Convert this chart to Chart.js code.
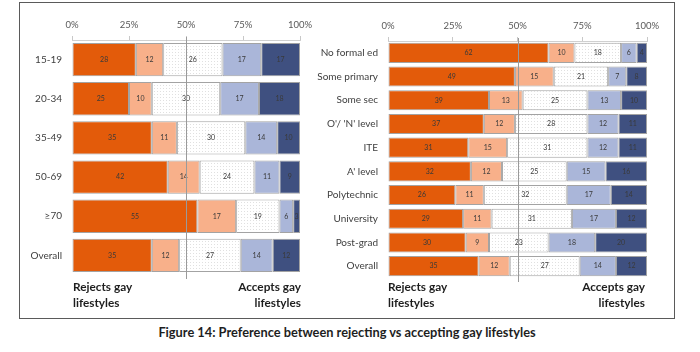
<!DOCTYPE html>
<html>
<head>
<meta charset="utf-8">
<script src="https://cdn.jsdelivr.net/npm/chart.js@4.4.1/dist/chart.umd.min.js"></script>
<style>
  html, body { margin: 0; padding: 0; background: #fff; }
  body { width: 700px; height: 352px; position: relative; overflow: hidden; font-family: Lato, "Open Sans", sans-serif; }
  .frame { position: absolute; left: 19px; top: 2px; width: 654px; height: 315px; border: 1.5px solid #5a5a5a; }
  .cv { position: absolute; top: 0; }
  .note { position: absolute; font-weight: bold; font-size: 11.8px; line-height: 16px; color: #1e1e1e; }
  .caption { position: absolute; left: 0; width: 694px; top: 324px; text-align: center; font-weight: bold; font-size: 12.8px; color: #1e1e1e; }
</style>
</head>
<body>
<div class="frame"></div>
<div class="cv" style="left:0px;width:330px;height:300px;"><canvas id="c1"></canvas></div>
<div class="cv" style="left:305px;width:370px;height:300px;"><canvas id="c2"></canvas></div>
<div class="note" style="left:73px;top:279px;">Rejects gay<br>lifestyles</div>
<div class="note" style="right:399px;top:279px;text-align:right;">Accepts gay<br>lifestyles</div>
<div class="note" style="left:388px;top:279px;">Rejects gay<br>lifestyles</div>
<div class="note" style="right:55px;top:279px;text-align:right;">Accepts gay<br>lifestyles</div>
<div class="caption">Figure 14: Preference between rejecting vs accepting gay lifestyles</div>
<script>
// ---- Data ----
const ageCategories = ['15-19', '20-34', '35-49', '50-69', '\u226570', 'Overall'];
const ageStronglyReject = [28, 25, 35, 42, 55, 35];
const ageReject         = [12, 10, 11, 14, 17, 12];
const ageNeutral        = [26, 30, 30, 24, 19, 27];
const ageAccept         = [17, 17, 14, 11, 6, 14];
const ageStronglyAccept = [17, 18, 10, 9, 3, 12];

const eduCategories = ['No formal ed', 'Some primary', 'Some sec', "O'/ 'N' level", 'ITE', "A' level", 'Polytechnic', 'University', 'Post-grad', 'Overall'];
const eduStronglyReject = [62, 49, 39, 37, 31, 32, 26, 29, 30, 35];
const eduReject         = [10, 15, 13, 12, 15, 12, 11, 11, 9, 12];
const eduNeutral        = [18, 21, 25, 28, 31, 25, 32, 31, 23, 27];
const eduAccept         = [6, 7, 13, 12, 12, 15, 17, 17, 18, 14];
const eduStronglyAccept = [4, 8, 10, 11, 11, 16, 14, 12, 20, 12];

const xTickLabels = ['0%', '25%', '50%', '75%', '100%'];

// ---- Styles ----
function dotPattern() {
  const c = document.createElement('canvas');
  c.width = 3; c.height = 3;
  const g = c.getContext('2d');
  g.fillStyle = '#ffffff'; g.fillRect(0, 0, 3, 3);
  g.fillStyle = '#e0e0e0'; g.fillRect(1, 1, 1, 1);
  return g.createPattern(c, 'repeat');
}
const pat = dotPattern();
const colors = ['#e35b0a', '#f8b08a', pat, '#aab6d9', '#3f5080'];

const segLabels = {
  id: 'segLabels',
  afterDatasetsDraw(chart) {
    const ctx = chart.ctx;
    ctx.save();
    ctx.font = '7px Lato, sans-serif';
    ctx.textAlign = 'center';
    ctx.textBaseline = 'middle';
    ctx.fillStyle = '#3a3a3a';
    chart.data.datasets.forEach((ds, i) => {
      chart.getDatasetMeta(i).data.forEach((el, j) => {
        const cx = (el.x + el.base) / 2;
        ctx.fillText(String(ds.data[j]), cx, el.y);
      });
    });
    ctx.restore();
  }
};
const midLine = {
  id: 'midLine',
  afterDraw(chart) {
    const ctx = chart.ctx, a = chart.chartArea;
    const x = Math.round(chart.scales.x.getPixelForValue(50)) + 0.5;
    ctx.save();
    ctx.strokeStyle = '#9a9a9a';
    ctx.lineWidth = 1;
    ctx.beginPath();
    ctx.moveTo(x, a.top - 3);
    ctx.lineTo(x, a.bottom + 4);
    ctx.stroke();
    ctx.restore();
  }
};

function makeChart(id, cats, series, yWidth, xHeight, pad) {
  const names = ['Strongly reject', 'Reject', 'Neutral', 'Accept', 'Strongly accept'];
  return new Chart(document.getElementById(id), {
    type: 'bar',
    data: {
      labels: cats,
      datasets: series.map((d, i) => ({
        label: names[i], data: d, backgroundColor: colors[i],
        borderColor: '#a3a3a3', borderWidth: 1, borderSkipped: false,
        barPercentage: 0.85, categoryPercentage: 1
      }))
    },
    options: {
      indexAxis: 'y', responsive: true, maintainAspectRatio: false, animation: false,
      layout: { padding: pad },
      plugins: { legend: { display: false }, tooltip: { enabled: false } },
      scales: {
        x: {
          stacked: true, position: 'top', min: 0, max: 100,
          afterBuildTicks(s) { s.ticks = xTickLabels.map((t, i) => ({ value: i * 25 })); },
          afterFit(s) { s.height = xHeight; },
          ticks: { callback: (v) => xTickLabels[v / 25], font: { family: 'Lato', size: 9.5 }, color: '#595959', padding: 5, maxRotation: 0 },
          grid: { drawOnChartArea: false, drawTicks: true, tickLength: 4, color: '#c8c8c8' },
          border: { display: true, color: '#d0d0d0' }
        },
        y: {
          stacked: true,
          afterFit(s) { s.width = yWidth; },
          ticks: { font: { family: 'Lato', size: 10 }, color: '#404040', padding: 10 },
          grid: { display: false, drawTicks: false },
          border: { display: false }
        }
      }
    },
    plugins: [segLabels, midLine]
  });
}

makeChart('c1', ageCategories,
  [ageStronglyReject, ageReject, ageNeutral, ageAccept, ageStronglyAccept],
  72, 40, { left: 0, right: 30, top: 0, bottom: 25 });
makeChart('c2', eduCategories,
  [eduStronglyReject, eduReject, eduNeutral, eduAccept, eduStronglyAccept],
  83, 41, { left: 0, right: 28, top: 0, bottom: 22 });
</script>
</body>
</html>
